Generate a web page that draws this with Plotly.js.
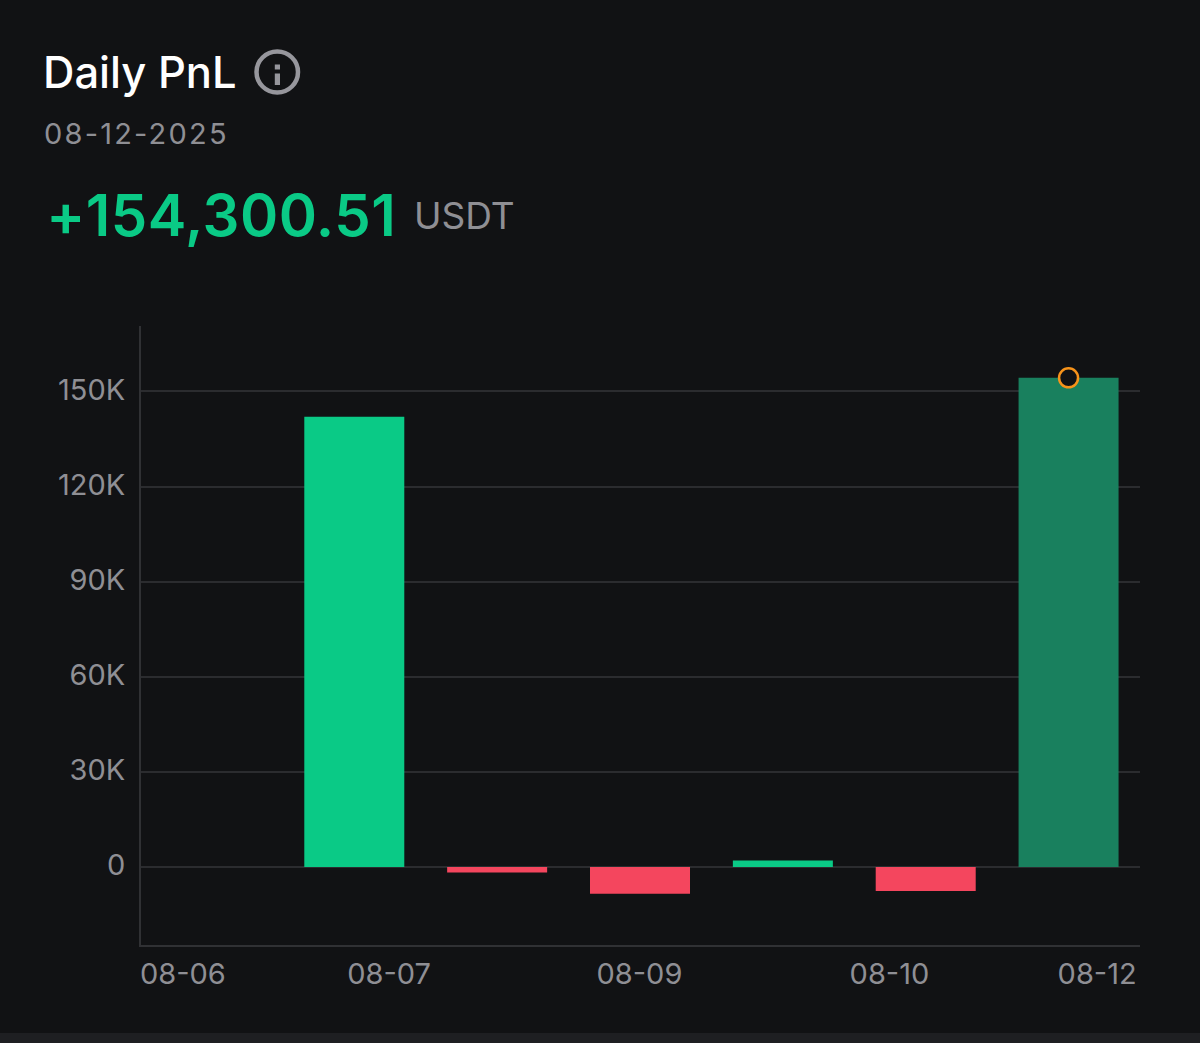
<!DOCTYPE html>
<html>
<head>
<meta charset="utf-8">
<script src="https://cdn.plot.ly/plotly-3.0.1.min.js"></script>
<style>
html,body{margin:0;padding:0;background:#111214;width:1200px;height:1043px;overflow:hidden}
#chart{width:1200px;height:1033px}
#strip{width:1200px;height:10px;background:#1e1f22}
.annotation[data-index="1"] text{letter-spacing:2.2px}
.annotation[data-index="2"] text{letter-spacing:0.5px}
</style>
</head>
<body>
<div id="chart"></div>
<div id="strip"></div>
<script>
const days = [0, 1, 2, 3, 4, 5, 6];
const pnl = [0, 142000, -1700, -8400, 2050, -7600, 154300];
const selectedDay = 6;
const selectedValue = 154300;
const xTickVals = [-0.2, 1.243, 2.996, 4.746, 6.2];
const xTickText = ['08-06', '08-07', '08-09', '08-10', '08-12'];
const yTickVals = [0, 30000, 60000, 90000, 120000, 150000];
const yTickText = ['0', '30K', '60K', '90K', '120K', '150K'];
const titleText = 'Daily PnL';
const dateText = '08-12-2025';
const amountText = '+154,300.51';
const unitText = 'USDT';

const GREEN = '#0aca86', DARK_GREEN = '#19805e', RED = '#f4465e', GRID = '#2b2c2f', MUTED = '#8f8f94', ICON = '#96969c';
const FONT = 'Inter, "Noto Sans", sans-serif';
const W = 1200, H = 1033, L = 141, R = 60, T = 326, B = 88;
const px = x => (x - L) / (W - L - R);
const py = y => 1 - (y - T) / (H - T - B);

function note(text, x, y, size, color, weight) {
  return {text, x: px(x), y: py(y), xref: 'paper', yref: 'paper', xanchor: 'left', yanchor: 'middle',
    showarrow: false, font: {family: FONT, size, color, weight: weight || 400}};
}
function box(x0, x1, y0, y1) {
  return {type: 'rect', xref: 'paper', yref: 'paper', x0: px(x0), x1: px(x1), y0: py(y1), y1: py(y0),
    fillcolor: ICON, line: {width: 0}, layer: 'above'};
}

Plotly.newPlot('chart', [
  {type: 'bar', x: days, y: pnl, width: 0.7,
   marker: {color: pnl.map((v, i) => i === selectedDay ? DARK_GREEN : v >= 0 ? GREEN : RED), line: {width: 0}},
   hoverinfo: 'skip'},
  {type: 'scatter', mode: 'markers', x: [selectedDay], y: [selectedValue],
   marker: {symbol: 'circle', size: 19, color: '#111214', line: {color: '#f7931a', width: 2.5}},
   hoverinfo: 'skip'}
], {
  width: W, height: H, showlegend: false, bargap: 0.3,
  paper_bgcolor: '#111214', plot_bgcolor: '#111214',
  margin: {l: L, r: R, t: T, b: B, pad: 0},
  font: {family: FONT, color: MUTED},
  xaxis: {range: [-0.493, 6.5], tickmode: 'array', tickvals: xTickVals, ticktext: xTickText,
    showgrid: false, zeroline: false, showline: true, linecolor: '#303134', linewidth: 2,
    ticks: '', ticklabelstandoff: 2, tickfont: {family: FONT, size: 29, color: MUTED}},
  yaxis: {range: [-24600, 170660], tickmode: 'array', tickvals: yTickVals, ticktext: yTickText,
    showgrid: true, gridcolor: GRID, gridwidth: 2, zeroline: true, zerolinecolor: GRID, zerolinewidth: 2,
    showline: true, linecolor: '#303134', linewidth: 2,
    ticks: '', ticklabelstandoff: 8, ticklabelshift: -2, tickfont: {family: FONT, size: 29, color: MUTED}},
  shapes: [
    {type: 'circle', xref: 'paper', yref: 'paper', x0: px(256.5), x1: px(298), y0: py(92.5), y1: py(51.5),
     line: {color: ICON, width: 4.5}, layer: 'above'},
    box(274.8, 280, 64.5, 69.5),
    box(274.8, 280, 73.5, 85)
  ],
  annotations: [
    note(titleText, 41, 72, 43.5, '#ffffff', 500),
    note(dateText, 52.5, 133, 29, MUTED),
    note(amountText, 47, 215, 58, GREEN, 600),
    note(unitText, 412, 215, 37, MUTED)
  ]
}, {displayModeBar: false, staticPlot: true});
</script>
</body>
</html>
